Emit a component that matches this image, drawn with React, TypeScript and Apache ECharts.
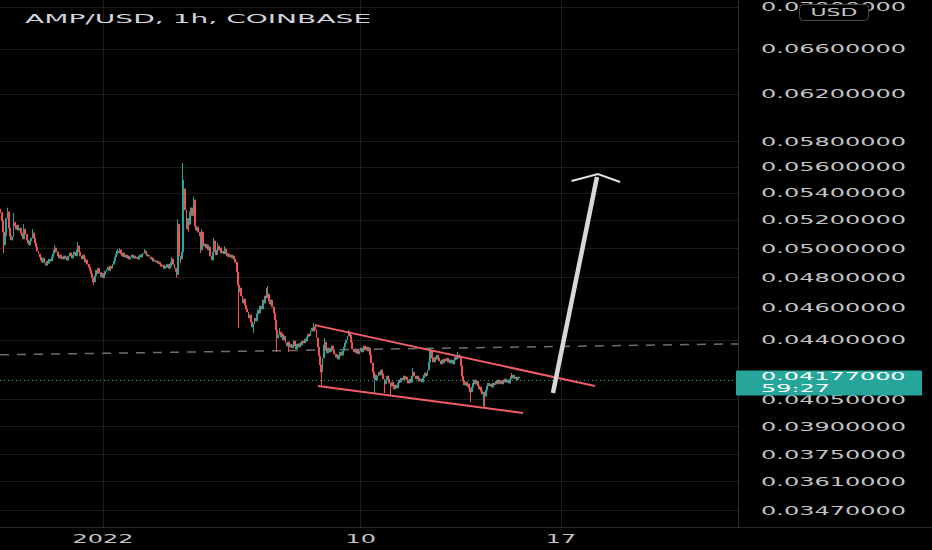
import React, { useEffect, useRef } from 'react';
import * as echarts from 'echarts';

// ---------- data ----------
const title = 'AMP/USD, 1h, COINBASE';
const startHour = -86; // first candle, hours relative to 2022-01-01 00:00
const priceUnit = 1e-5; // closes are stored in units of 0.00001 USD
const firstOpen = 5280;
const closes = [
  5253, 5197, 5113, 5022, 5085, 5211, 5260, 5141, 5085, 5057,
  5078, 5183, 5155, 5134, 5162, 5127, 5141, 5106, 5085, 5064,
  5134, 5099, 5057, 5036, 5022, 5050, 5071, 5106, 5071, 5036,
  5008, 4980, 4959, 4938, 4917, 4903, 4931, 4896, 4882, 4910,
  4896, 4924, 4910, 4938, 4959, 4987, 5001, 4973, 4945, 4931,
  4952, 4938, 4924, 4945, 4931, 4938, 4917, 4945, 4966, 4945,
  4931, 4952, 4973, 4945, 4987, 5015, 4973, 4945, 4924, 4952,
  4931, 4903, 4917, 4889, 4868, 4847, 4826, 4798, 4770, 4812,
  4847, 4826, 4861, 4833, 4805, 4826, 4798, 4819, 4840, 4854,
  4868, 4847, 4875, 4861, 4889, 4910, 4938, 4959, 4980, 4966,
  4987, 4959, 4945, 4966, 4938, 4952, 4931, 4945, 4924, 4938,
  4952, 4931, 4945, 4931, 4938, 4924, 4945, 4952, 4938, 4959,
  4966, 4980, 4959, 4945, 4952, 4938, 4924, 4931, 4910, 4917,
  4903, 4910, 4896, 4903, 4889, 4875, 4882, 4861, 4875, 4868,
  4889, 4861, 4875, 4903, 4924, 4889, 4861, 4840, 4819, 5169,
  4945, 4924, 4973, 5362, 5430, 5273, 5134, 5211, 5169, 5260,
  5288, 5232, 5347, 5155, 5127, 5148, 5113, 5085, 4987, 5113,
  5015, 5029, 5001, 5022, 4987, 5008, 4945, 4917, 4973, 5050,
  4987, 4952, 5015, 4987, 5001, 4966, 4980, 4959, 4994, 4966,
  4945, 4959, 4938, 4952, 4931, 4945, 4924, 4903, 4836, 4749,
  4703, 4729, 4677, 4631, 4657, 4618, 4593, 4574, 4535, 4555,
  4510, 4479, 4498, 4535, 4517, 4561, 4586, 4567, 4612, 4593,
  4651, 4631, 4677, 4664, 4690, 4644, 4625, 4651, 4606, 4567,
  4523, 4460, 4411, 4429, 4448, 4417, 4435, 4399, 4423, 4380,
  4362, 4386, 4356, 4374, 4350, 4368, 4392, 4362, 4344, 4374,
  4356, 4380, 4368, 4392, 4380, 4404, 4392, 4417, 4435, 4423,
  4454, 4473, 4454, 4479, 4460, 4411, 4356, 4301, 4248, 4206,
  4289, 4368, 4386, 4338, 4320, 4350, 4326, 4344, 4362, 4338,
  4314, 4295, 4307, 4283, 4301, 4326, 4307, 4332, 4356, 4380,
  4399, 4423, 4442, 4429, 4386, 4344, 4326, 4344, 4320, 4338,
  4314, 4332, 4350, 4326, 4344, 4362, 4338, 4356, 4332, 4350,
  4307, 4260, 4206, 4171, 4189, 4160, 4183, 4206, 4189, 4218,
  4195, 4166, 4137, 4160, 4183, 4166, 4142, 4125, 4148, 4125,
  4108, 4131, 4114, 4142, 4160, 4148, 4171, 4160, 4183, 4166,
  4177, 4160, 4142, 4166, 4148, 4183, 4206, 4183, 4166, 4183,
  4171, 4154, 4166, 4148, 4171, 4189, 4201, 4183, 4218, 4266,
  4320, 4332, 4289, 4266, 4295, 4283, 4307, 4289, 4272, 4254,
  4278, 4260, 4283, 4272, 4289, 4266, 4278, 4260, 4278, 4254,
  4278, 4295, 4283, 4307, 4289, 4301, 4242, 4183, 4154, 4131,
  4148, 4125, 4137, 4114, 4091, 4119, 4142, 4160, 4137, 4154,
  4125, 4108, 4119, 4096, 4079, 4091, 4068, 4102, 4125, 4142,
  4125, 4137, 4119, 4142, 4131, 4154, 4137, 4160, 4142, 4154,
  4137, 4160, 4148, 4166, 4148, 4160, 4142, 4166, 4183, 4171,
  4189, 4166, 4177, 4160, 4171, 4177,
];
// [candle index, price in units] for visible wicks
const highWicks: [number, number][] = [
  [6, 5290], [11, 5250], [20, 5170], [27, 5134], [46, 5022], [65, 5043], [98, 4994], [100, 5000],
  [121, 4994], [144, 4938], [149, 5205], [153, 5630], [154, 5500], [162, 5370], [169, 5134],
  [179, 5071], [182, 5036], [188, 5014], [223, 4729], [224, 4742], [234, 4473], [263, 4504],
  [264, 4498], [272, 4411], [292, 4460], [293, 4454], [346, 4230], [360, 4350], [361, 4350],
  [383, 4326], [385, 4314], [429, 4201],
];
const lowWicks: [number, number][] = [
  [3, 4966], [78, 4750], [148, 4798], [151, 4896], [158, 5113], [168, 4966], [200, 4473],
  [212, 4442], [232, 4326], [242, 4326], [269, 4125], [314, 4079], [322, 4085], [327, 4074],
  [394, 4034], [405, 4011], [406, 4006],
];

const yTickPrices = [0.07, 0.066, 0.062, 0.058, 0.056, 0.054, 0.052, 0.05, 0.048, 0.046, 0.044, 0.0405, 0.039, 0.0375, 0.0361, 0.0347];
const yRange = [0.033891, 0.070667];
const xTickHours = [0, 216, 384];
const xTickLabels = ['2022', '10', '17'];
const xRange = [-86.3, 532.3];
const lastPrice = 0.04177;
const countdown = '59:27';
const currency = 'USD';

// drawings: [hour, price]
const upperTrend = [[177.7, 0.04491], [412.4, 0.04125]];
const lowerTrend = [[180.2, 0.04125], [352.1, 0.03973]];
const dashedTrend = [[-86.3, 0.04309], [532.3, 0.04375]];
const arrowShaft = [[377.2, 0.04085], [414.1, 0.05521]];
const arrowHead = [[392.8, 0.0549], [414.9, 0.05544], [433.4, 0.05483]];

// ---------- styles ----------
const UP = '#26a69a';
const DOWN = '#ef5350';
const FONT = 'DejaVu Sans';
const LABEL = '#c4c4c4';
const GRID = '#1c1c1c';
const AXIS = '#2c2c2c';
const TEXT_STRETCH = 2.0;
const TITLE_STRETCH = 2.16;
const BADGE_STRETCH = 2.28;

const hiMap = new Map(highWicks);
const loMap = new Map(lowWicks);
const candles = closes.map((c, i) => {
  const o = i === 0 ? firstOpen : closes[i - 1];
  const h = hiMap.get(i) ?? Math.max(o, c);
  const l = loMap.get(i) ?? Math.min(o, c);
  return [startHour + i, Math.log(o * priceUnit), Math.log(c * priceUnit), Math.log(l * priceUnit), Math.log(h * priceUnit)];
});
const toXY = (pts: number[][]) => pts.map(([h, p]) => [h, Math.log(p)]);

const lineSeries = (pts: number[][], color: string, width: number, type: any = 'solid', z = 5) => ({
  type: 'line',
  data: toXY(pts),
  symbol: 'none',
  showSymbol: false,
  silent: true,
  z,
  lineStyle: { color, width, type, cap: 'butt', join: 'miter' },
  emphasis: { disabled: true },
});

const applied = new WeakMap<Element, string>();
function stretchTexts(root: HTMLElement) {
  const badgeTexts = [lastPrice.toFixed(8), countdown];
  root.querySelectorAll('text').forEach((t) => {
    const cur = t.getAttribute('transform') || '';
    if (applied.get(t) === cur) return;
    const s = (t.textContent || '').trim();
    const k = s === title ? TITLE_STRETCH : badgeTexts.includes(s) ? BADGE_STRETCH : TEXT_STRETCH;
    const x = parseFloat(t.getAttribute('x') || '0') || 0;
    const y = parseFloat(t.getAttribute('y') || '0') || 0;
    const next = `${cur} translate(${x} ${y}) scale(${k} 1) translate(${-x} ${-y})`.trim();
    t.setAttribute('transform', next);
    applied.set(t, next);
  });
}

export default function App() {
  const ref = useRef<HTMLDivElement>(null);
  useEffect(() => {
    const el = ref.current!;
    const chart = echarts.init(el, undefined, { renderer: 'svg' });
    const option: any = {
      animation: false,
      backgroundColor: '#000000',
      title: {
        text: title,
        left: 20,
        top: 7,
        textStyle: { color: '#d1d4dc', fontSize: 13, fontWeight: 'normal', fontFamily: FONT },
      },
      grid: { left: 0, right: 194, top: 0, bottom: 23, containLabel: false },
      xAxis: {
        type: 'value',
        min: xRange[0],
        max: xRange[1],
        axisLine: { show: true, onZero: false, lineStyle: { color: AXIS } },
        axisTick: { show: false, customValues: xTickHours },
        axisLabel: {
          customValues: xTickHours,
          margin: 6,
          color: LABEL,
          fontSize: 12,
          fontFamily: FONT,
          formatter: (v: number) => {
            const k = xTickHours.indexOf(Math.round(v));
            return k >= 0 ? xTickLabels[k] : '';
          },
        },
        splitLine: { show: true, lineStyle: { color: GRID, width: 1 } },
      },
      yAxis: {
        type: 'value',
        position: 'right',
        min: Math.log(yRange[0]),
        max: Math.log(yRange[1]),
        axisLine: { show: true, onZero: false, lineStyle: { color: AXIS } },
        axisTick: { show: false, customValues: yTickPrices.map(Math.log) },
        axisLabel: {
          customValues: yTickPrices.map(Math.log),
          margin: 23,
          align: 'left',
          color: LABEL,
          fontSize: 12,
          fontFamily: FONT,
          formatter: (v: number) => Math.exp(v).toFixed(8),
        },
        splitLine: { show: true, lineStyle: { color: GRID, width: 1 } },
      },
      series: [
        lineSeries(dashedTrend, '#6e6e6e', 1.5, [9, 8], 2),
        {
          type: 'candlestick',
          data: candles,
          encode: { x: 0, y: [1, 2, 3, 4] },
          barWidth: 1.4,
          z: 3,
          emphasis: { disabled: true },
          itemStyle: { color: UP, color0: DOWN, borderColor: UP, borderColor0: DOWN, borderWidth: 1 },
          markLine: {
            silent: true,
            symbol: ['none', 'none'],
            label: { show: false },
            lineStyle: { color: UP, type: [1, 3], width: 1 },
            data: [{ yAxis: Math.log(lastPrice) }],
          },
        },
        lineSeries(upperTrend, '#f25c68', 2),
        lineSeries(lowerTrend, '#f25c68', 2),
        lineSeries(arrowShaft, '#d8d8d8', 4.5, 'solid', 6),
        lineSeries(arrowHead, '#e2e2e2', 2, 'solid', 6),
      ],
    };
    chart.setOption(option);
    const yLast = chart.convertToPixel({ yAxisIndex: 0 }, Math.log(lastPrice)) as number;
    const txt = (text: string, x: number, y: number, fill: string, size: number, align = 'left') => ({
      type: 'text',
      x,
      y,
      z: 101,
      silent: true,
      style: { text, fill, fontSize: size, fontFamily: FONT, align, textAlign: align, verticalAlign: 'middle', textVerticalAlign: 'middle' },
    });
    chart.setOption({
      graphic: [
        { type: 'line', z: 100, silent: true, shape: { x1: 738, y1: 527.5, x2: 932, y2: 527.5 }, style: { stroke: AXIS, lineWidth: 1 } },
        { type: 'rect', z: 100, silent: true, shape: { x: 736, y: yLast - 6.5, width: 186, height: 25, r: 1 }, style: { fill: '#26a69a' } },
        txt(lastPrice.toFixed(8), 761, yLast - 0.5, '#ffffff', 10.5),
        txt(countdown, 761, yLast + 11.5, '#ffffff', 10.5),
        { type: 'rect', z: 100, silent: true, shape: { x: 799.5, y: 4.5, width: 69, height: 16, r: 4 }, style: { fill: '#000000', stroke: '#4a4a4a', lineWidth: 1 } },
        txt(currency, 834, 12.5, LABEL, 11, 'center'),
      ],
    });
    stretchTexts(el);
    const onFinished = () => stretchTexts(el);
    chart.on('finished', onFinished);
    const timer = setTimeout(() => stretchTexts(el), 60);
    return () => {
      clearTimeout(timer);
      chart.off('finished', onFinished);
      chart.dispose();
    };
  }, []);
  return <div ref={ref} style={{ position: 'fixed', left: 0, top: 0, width: 932, height: 550, background: '#000' }} />;
}
